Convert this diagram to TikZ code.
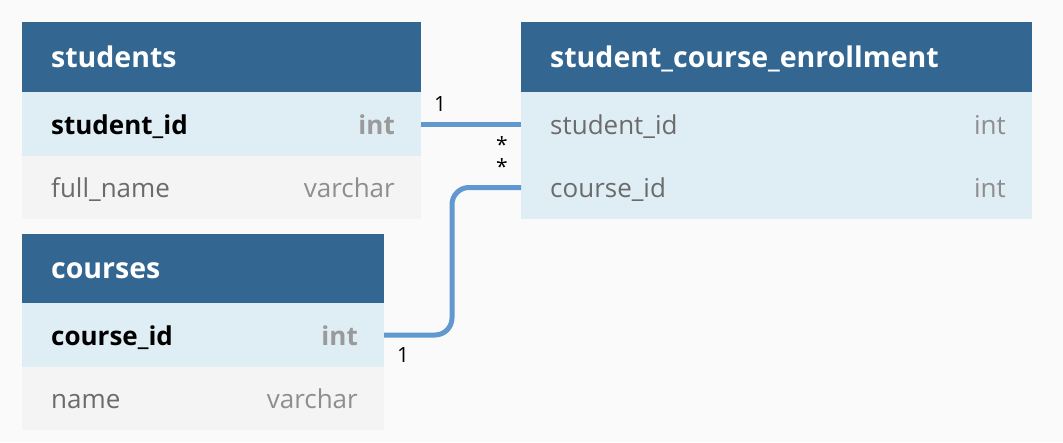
\documentclass[tikz,border=0pt]{standalone}
\usepackage{fontspec}
\setmainfont{Open Sans}
\definecolor{bg}{HTML}{FAFAFA}
\definecolor{hdr}{HTML}{336792}
\definecolor{keyrow}{HTML}{DFEDF5}
\definecolor{plainrow}{HTML}{F4F4F4}
\definecolor{conncol}{HTML}{6098CF}
\definecolor{typegray}{HTML}{8E8E8E}
\definecolor{namegray}{HTML}{6B6B6B}
\definecolor{keytype}{HTML}{9A9A9A}
\begin{document}
\begin{tikzpicture}[x=1pt,y=-1pt,
  cell/.style={anchor=north west, inner sep=0pt, outer sep=0pt},
  headcell/.style={cell, fill=hdr, minimum height=70pt},
  keycell/.style={cell, fill=keyrow, minimum height=64pt},
  plaincell/.style={cell, fill=plainrow, minimum height=63pt},
  title/.style={anchor=base west, inner sep=0pt, text=white, font=\fontsize{28.5}{32}\selectfont\bfseries},
  keyname/.style={anchor=base west, inner sep=0pt, text=black, font=\fontsize{26}{30}\selectfont\bfseries},
  keytypetxt/.style={anchor=base east, inner sep=0pt, text=keytype, font=\fontsize{26}{30}\selectfont\bfseries},
  fname/.style={anchor=base west, inner sep=0pt, text=namegray, font=\fontsize{26}{30}\selectfont},
  ftype/.style={anchor=base east, inner sep=0pt, text=typegray, font=\fontsize{26}{30}\selectfont},
  conn/.style={draw=conncol, line width=5pt},
  card/.style={inner sep=0pt, text=black, font=\fontsize{21}{24}\selectfont}
]
\fill[bg] (0,0) rectangle (1063,442);
\useasboundingbox (0,0) rectangle (1063,442);

% students
\node[headcell, minimum width=399pt] (sh) at (22,22) {};
\node[keycell, minimum width=399pt] (sr1) at (22,92) {};
\node[plaincell, minimum width=399pt] (sr2) at (22,156) {};
\node[title] (sht) at ([xshift=29pt,yshift=-10pt]sh.west) {students};
\node[keyname] (sr1n) at ([xshift=29pt,yshift=-10pt]sr1.west) {student\_id};
\node[keytypetxt] (sr1t) at ([xshift=-26pt,yshift=-10pt]sr1.east) {int};
\node[fname] (sr2n) at ([xshift=29pt,yshift=-10pt]sr2.west) {full\_name};
\node[ftype] (sr2t) at ([xshift=-26pt,yshift=-10pt]sr2.east) {varchar};

% courses
\node[headcell, minimum width=362pt, minimum height=69pt] (ch) at (22,234) {};
\node[keycell, minimum width=362pt] (cr1) at (22,303) {};
\node[plaincell, minimum width=362pt] (cr2) at (22,367) {};
\node[title] (cht) at ([xshift=29pt,yshift=-10pt]ch.west) {courses};
\node[keyname] (cr1n) at ([xshift=29pt,yshift=-10pt]cr1.west) {course\_id};
\node[keytypetxt] (cr1t) at ([xshift=-26pt,yshift=-10pt]cr1.east) {int};
\node[fname] (cr2n) at ([xshift=29pt,yshift=-10pt]cr2.west) {name};
\node[ftype] (cr2t) at ([xshift=-26pt,yshift=-10pt]cr2.east) {varchar};

% enrollment
\node[headcell, minimum width=511pt] (eh) at (521,22) {};
\node[keycell, minimum width=511pt] (er1) at (521,92) {};
\node[keycell, minimum width=511pt, minimum height=63pt] (er2) at (521,156) {};
\node[title] (eht) at ([xshift=29pt,yshift=-10pt]eh.west) {student\_course\_enrollment};
\node[fname] (er1n) at ([xshift=29pt,yshift=-10pt]er1.west) {student\_id};
\node[ftype] (er1t) at ([xshift=-26pt,yshift=-10pt]er1.east) {int};
\node[fname] (er2n) at ([xshift=29pt,yshift=-10pt]er2.west) {course\_id};
\node[ftype] (er2t) at ([xshift=-26pt,yshift=-10pt]er2.east) {int};

% connectors
\draw[conn] (sr1.east) -- (er1.west);
\draw[conn, rounded corners=17pt] (cr1.east) -- ++(68,0) |- (er2.west);

% cardinalities
\node[card] (l1) at (440,104) {1};
\node[card] (l2) at (502,145) {*};
\node[card] (l3) at (502,167) {*};
\node[card] (l4) at (403,355) {1};
\end{tikzpicture}
\end{document}
